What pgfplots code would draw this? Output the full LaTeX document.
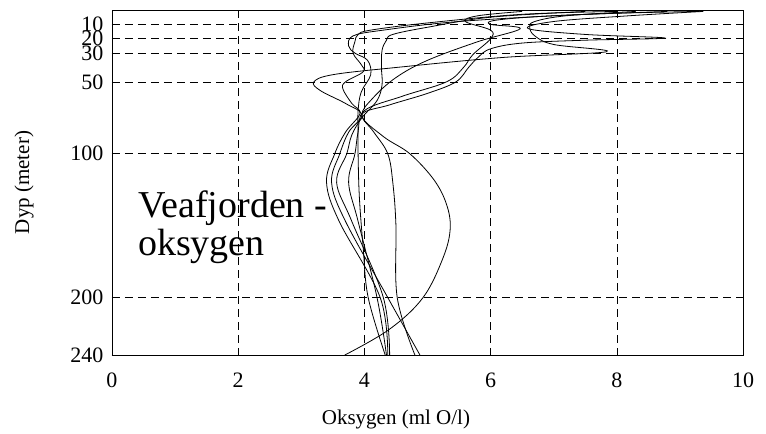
\documentclass[border=0pt]{standalone}
\usepackage{pgfplots}
\pgfplotsset{compat=1.18}
\usepackage{fontspec}
\setmainfont{Liberation Serif}
\begin{document}
\begin{tikzpicture}
\begin{axis}[
  scale only axis, width=631bp, height=345bp,
  xmin=0, xmax=10, ymin=0, ymax=240, y dir=reverse,
  xtick={0,2,4,6,8,10}, ytick={10,20,30,50,100,200,240},
  grid=major,
  major grid style={black, dash pattern=on 8bp off 5bp, line width=0.6bp},
  axis line style={black, line width=0.8bp},
  tick pos=left, tick align=inside, major tick length=8bp,
  xtick style={draw=none},
  ytick style={black, line width=0.6bp},
  /pgf/number format/assume math mode=true,
  ticklabel style={font=\fontsize{22bp}{26bp}\selectfont},
  xticklabel style={yshift=-14bp},
  yticklabel style={xshift=-5bp},
  label style={font=\fontsize{21bp}{25bp}\selectfont},
  xlabel={Oksygen (ml O/l)},
  ylabel={Dyp (meter)},
  xlabel style={at={(axis description cs:0.45,-0.2)}, anchor=base},
  ylabel style={at={(axis description cs:-0.1315,0.5)}, anchor=base},
  every axis plot post/.append style={black, solid, line width=0.8bp, smooth, tension=0.6, mark=none},
  clip=true,
]
% A: spike at 20 m, bulge at 150 m
\addplot coordinates {(9.37,1) (8.2,4) (7.0,8) (6.6,13) (7.5,17) (8.76,19.5) (7.5,21) (6.5,23) (6.0,27) (5.8,33) (5.65,40) (5.45,50) (5.0,58) (4.4,66) (3.96,73) (4.3,88) (4.72,100) (5.1,118) (5.3,135) (5.36,152) (5.25,172) (4.93,200) (4.4,222) (3.69,240)};
% B
\addplot coordinates {(8.8,1) (7.0,4) (6.1,7) (6.0,10) (6.47,13) (5.8,22) (5.0,35) (4.5,47) (4.14,61) (3.96,73) (4.15,85) (4.37,100) (4.45,120) (4.5,150) (4.52,200) (4.80,240)};
% C
\addplot coordinates {(9.3,1) (7.5,3) (5.5,8) (4.3,14) (3.82,18) (3.75,25) (3.85,30) (4.05,35) (4.1,45) (3.95,57) (3.9,70) (3.9,85) (3.9,100) (3.92,130) (3.98,165) (4.06,200) (4.33,240)};
% D
\addplot coordinates {(8.0,1) (6.5,3) (5.0,9) (4.1,14) (3.9,17) (3.85,22) (3.82,30) (3.95,38) (3.98,43) (3.7,50) (3.66,55) (3.8,65) (3.93,72) (3.7,85) (3.53,100) (3.4,120) (3.6,147) (4.25,200) (4.37,240)};
% E: spike at 30 m, loop at 50 m
\addplot coordinates {(8.3,1) (7.2,4) (6.7,8) (6.62,12) (6.7,18) (7.0,24) (7.84,29) (6.2,33) (4.5,40) (3.5,45) (3.2,50) (3.3,56) (3.7,65) (3.96,73) (3.75,85) (3.61,100) (3.48,120) (3.7,147) (4.37,200) (4.88,240)};
% F
\addplot coordinates {(7.5,1) (6.0,5) (5.0,12) (4.45,17) (4.35,21) (4.28,28) (4.27,40) (4.28,52) (4.2,63) (3.96,75) (3.8,87) (3.72,100) (3.56,120) (3.8,147) (4.30,200) (4.40,240)};
% G
\addplot coordinates {(6.5,1) (5.8,4) (5.6,8) (6.0,14) (6.0,20) (5.72,31) (5.57,40) (5.3,50) (4.6,60) (4.0,70) (3.9,85) (3.85,100) (3.75,120) (3.9,147) (4.2,200) (4.35,240)};
\node[anchor=north west, align=left, inner sep=0pt, font=\fontsize{38bp}{38bp}\selectfont] at (axis description cs:0.0412,0.478) {Veafjorden -\\oksygen};
\coordinate (SW) at (axis description cs:0,0);
\coordinate (NE) at (axis description cs:1,1);
\end{axis}
\pgfresetboundingbox
\path ([xshift=-112bp,yshift=-79bp]SW) rectangle ([xshift=23bp,yshift=10bp]NE);
\end{tikzpicture}
\end{document}
